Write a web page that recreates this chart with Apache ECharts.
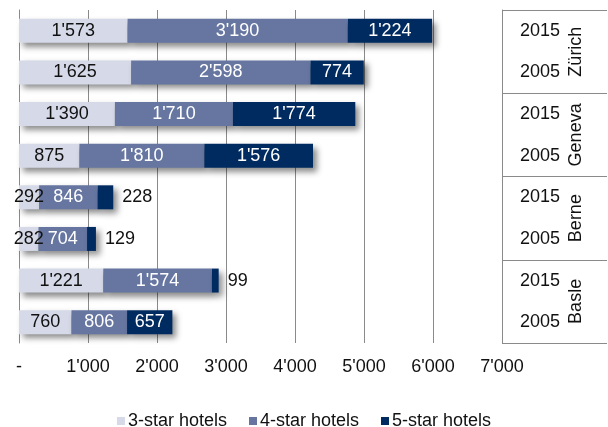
<!DOCTYPE html>
<html>
<head>
<meta charset="utf-8">
<script src="https://cdn.jsdelivr.net/npm/echarts@6/dist/echarts.min.js"></script>
<style>
html,body{margin:0;padding:0;background:#fff;}
#chart{width:608px;height:427px;}
</style>
</head>
<body>
<div id="chart"></div>
<script>
const categories = ['Zürich 2015','Zürich 2005','Geneva 2015','Geneva 2005','Berne 2015','Berne 2005','Basle 2015','Basle 2005'];
const years = ['2015','2005','2015','2005','2015','2005','2015','2005'];
const cities = ['Zürich','Geneva','Berne','Basle'];
const seriesNames = ['3-star hotels','4-star hotels','5-star hotels'];
const star3 = [1573,1625,1390,875,292,282,1221,760];
const star4 = [3190,2598,1710,1810,846,704,1574,806];
const star5 = [1224,774,1774,1576,228,129,99,657];
const xMin = 0, xMax = 7000, xStep = 1000;

const FONT = "'Liberation Sans',Arial,sans-serif";
const FS = 18;
const fmt = v => v === 0 ? '-' : String(v).replace(/\B(?=(\d{3})+(?!\d))/g, "'");
const colors = ['#d6d9e7','#6676a1','#002b60'];
const labelColors = ['#111','#fff','#fff'];
const shadow = {shadowBlur:6, shadowOffsetX:4, shadowOffsetY:4, shadowColor:'rgba(0,0,0,0.45)'};

function mkSeries(idx, vals){
  return {
    name: seriesNames[idx], type:'bar', stack:'total', xAxisIndex:0, yAxisIndex:0,
    barWidth: 24,
    itemStyle: Object.assign({color: colors[idx]}, shadow),
    label: {show:true, position:'inside', color: labelColors[idx], fontFamily: FONT, fontSize: FS, formatter: p => fmt(p.value)},
    data: vals.map(v => (idx === 2 && v < 300) ? {value:v, label:{position:'right', distance:9, color:'#111'}} : v)
  };
}

const chart = echarts.init(document.getElementById('chart'), null, {renderer:'canvas'});
chart.setOption({
  animation:false,
  textStyle:{fontFamily:FONT},
  grid:[
    {left:19, right:106, top:10, bottom:84},
    {left:502, right:1, top:10, bottom:84}
  ],
  legend:{
    data: seriesNames, top: 407, left:'center', itemWidth:8, itemHeight:8, itemGap:22,
    icon:'rect', textStyle:{fontFamily:FONT, fontSize:FS, color:'#111', padding:[0,0,0,-2]}
  },
  xAxis:[
    {type:'value', gridIndex:0, min:xMin, max:xMax, interval:xStep,
     axisLine:{show:false}, axisTick:{show:false},
     splitLine:{show:true, lineStyle:{color:'#8a8a8a', width:1}},
     axisLabel:{formatter: fmt, color:'#111', fontFamily:FONT, fontSize:FS, margin:15}},
    {type:'value', gridIndex:1, show:false, min:0, max:1}
  ],
  yAxis:[
    {type:'category', gridIndex:0, data:categories, inverse:true,
     axisLine:{show:true, lineStyle:{color:'#8a8a8a'}}, axisTick:{show:false}, axisLabel:{show:false}},
    {type:'category', gridIndex:1, data:years, inverse:true, position:'left',
     axisLine:{show:true, lineStyle:{color:'#8a8a8a'}}, axisTick:{show:false},
     axisLabel:{inside:true, interval:0, margin:18, color:'#111', fontFamily:FONT, fontSize:FS}},
    {type:'category', gridIndex:1, data:cities, inverse:true, position:'right',
     axisLine:{show:false}, axisTick:{show:false},
     splitLine:{show:true, interval:0, lineStyle:{color:'#8a8a8a'}},
     axisLabel:{inside:true, interval:0, rotate:90, margin:22, color:'#111', fontFamily:FONT, fontSize:FS}}
  ],
  series:[mkSeries(0, star3), mkSeries(1, star4), mkSeries(2, star5)]
});
</script>
</body>
</html>
